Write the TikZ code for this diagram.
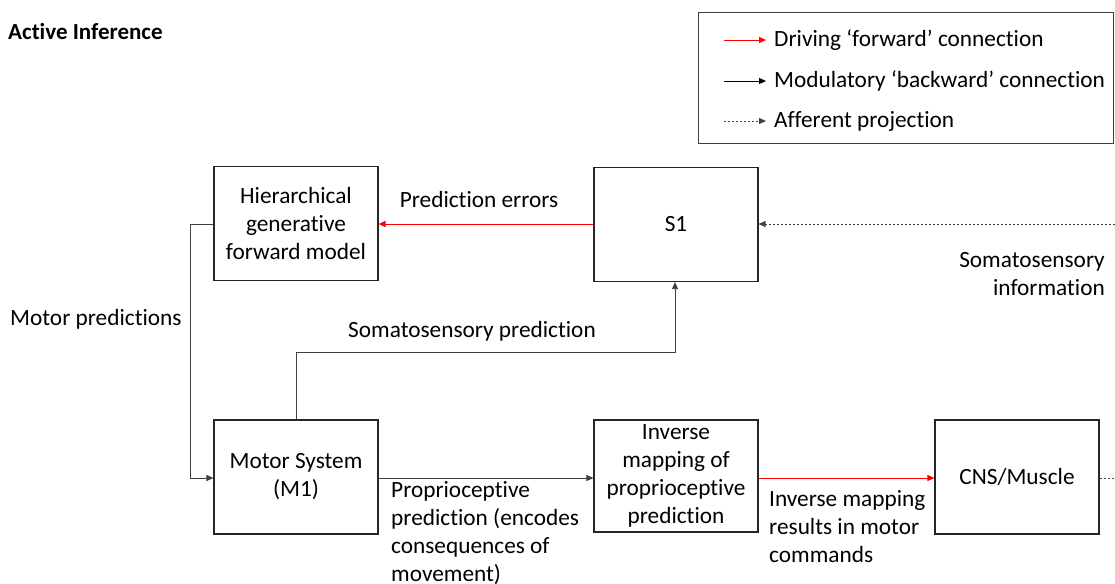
\documentclass[tikz,border=0pt]{standalone}
\usepackage{fontspec}
\setmainfont{Carlito}[Ligatures={NoCommon}]
\usetikzlibrary{arrows.meta}
\begin{document}
\begin{tikzpicture}[x=1pt,y=-1pt,
  every node/.style={font=\fontsize{23.3}{28}\selectfont, inner sep=0pt},
  blk/.style={draw=black!85, line width=1.1pt, minimum width=164pt, minimum height=114pt, align=center},
  conn/.style={draw=black!75, line width=0.8pt},
  tip/.style={-{Triangle[length=7pt,width=6pt]}},
  fwd/.style={conn, draw=red, tip},
  mod/.style={conn, tip},
  aff/.style={conn, dash pattern=on 2pt off 2pt},
  lbl/.style={align=center}
]
\useasboundingbox (0,0) rectangle (1115,583);

% title
\node[anchor=west, font=\fontsize{23}{28}\selectfont\bfseries] (title) at (8,32) {Active Inference};

% legend
\node[draw=black!75, line width=0.9pt, minimum width=415pt, minimum height=131pt, anchor=north west] (legend) at (698,12) {};
\coordinate (l1a) at (724,40); \coordinate (l1b) at (766,40);
\coordinate (l2a) at (724,81); \coordinate (l2b) at (766,81);
\coordinate (l3a) at (724,121); \coordinate (l3b) at (766,121);
\draw[fwd] (l1a) -- (l1b);
\draw[mod, draw=black] (l2a) -- (l2b);
\draw[aff, tip] (l3a) -- (l3b);
\node[anchor=west] (lt1) at (774,40) {Driving ‘forward’ connection};
\node[anchor=west] (lt2) at (774,81) {Modulatory ‘backward’ connection};
\node[anchor=west] (lt3) at (774,121) {Afferent projection};

% boxes
\node[blk] (hgm) at (296,223.5) {Hierarchical\\generative\\forward model};
\node[blk] (s1) at (676,224.5) {S1};
\node[blk] (m1) at (296,477) {Motor System\\(M1)};
\node[blk, minimum height=112pt] (inv) at (676,476) {Inverse\\mapping of\\proprioceptive\\prediction};
\node[blk] (cns) at (1017,477) {CNS/Muscle};

% connectors
\draw[fwd] (s1.west |- 0,224) coordinate (pe0) -- (hgm.east |- pe0);
\node (pelbl) at (479,199) {Prediction errors};

\coordinate (mp1) at (190,224);
\coordinate (mp2) at (190,478);
\draw[mod] (hgm.west |- mp1) -- (mp1) -- (mp2) -- (m1.west |- mp2);
\node[anchor=west] (mplbl) at (10,319) {Motor predictions};

\coordinate (sp1) at (296,352);
\coordinate (sp2) at (675,352);
\draw[mod] (m1.north -| sp1) -- (sp1) -- (sp2) -- (s1.south -| sp2);
\node (splbl) at (472,331) {Somatosensory prediction};

\coordinate (ed1) at (1115,224);
\draw[aff, tip] (ed1) -- (s1.east |- ed1);
\node[anchor=east, align=right] (silbl) at (1105,274) {Somatosensory\\information};

\draw[mod] (m1.east |- 0,478) coordinate (pp0) -- (inv.west |- pp0);
\node[anchor=west, align=left] (pplbl) at (391,533.5) {Proprioceptive\\prediction (encodes\\consequences of\\movement)};

\draw[fwd] (inv.east |- 0,478) coordinate (im0) -- (cns.west |- im0);
\node[anchor=west, align=left] (imlbl) at (769,527) {Inverse mapping\\results in motor\\commands};

\coordinate (ed2) at (1115,478);
\draw[aff] (cns.east |- ed2) -- (ed2);
\end{tikzpicture}
\end{document}
